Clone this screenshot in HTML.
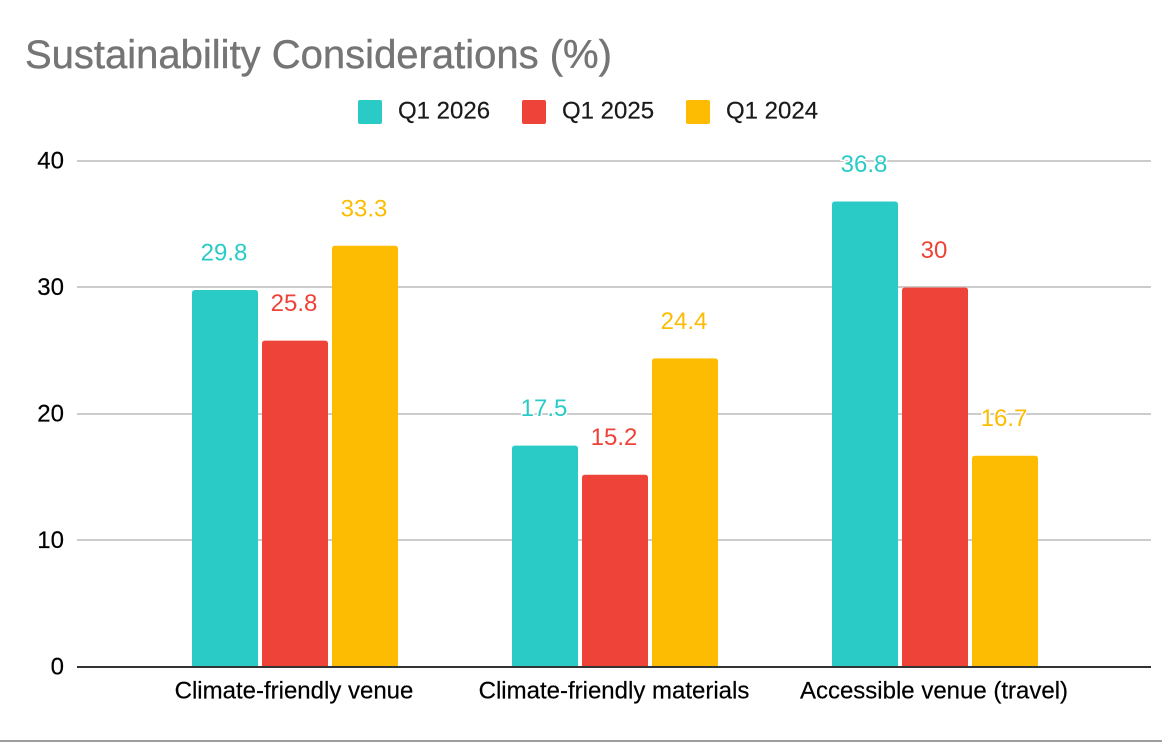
<!DOCTYPE html>
<html lang="en">
<head>
<meta charset="utf-8">
<title>Sustainability Considerations (%)</title>
<style>
html,body{margin:0;padding:0;background:#fff;width:1162px;height:742px;overflow:hidden}
svg{display:block;font-family:"Liberation Sans",Arial,sans-serif}
</style>
</head>
<body>
<svg id="chart" width="1162" height="742" viewBox="0 0 1162 742">
<text x="25" y="68" font-size="40" fill="#757575" stroke="#757575" stroke-width="0.4">Sustainability Considerations (%)</text>
<rect x="0" y="740" width="1162" height="2" fill="#9e9e9e"/>
</svg>
<script>
const categories = ['Climate-friendly venue', 'Climate-friendly materials', 'Accessible venue (travel)'];
const seriesNames = ['Q1 2026', 'Q1 2025', 'Q1 2024'];
const seriesQ12026 = [29.8, 17.5, 36.8];
const seriesQ12025 = [25.8, 15.2, 30];
const seriesQ12024 = [33.3, 24.4, 16.7];
const yTicks = [0, 10, 20, 30, 40];

const seriesValues = [seriesQ12026, seriesQ12025, seriesQ12024];
const colors = ['#2acbc7', '#ee4338', '#fdbc02'];
const svg = document.getElementById('chart');
const NS = 'http://www.w3.org/2000/svg';

function make(tag, attrs, text) {
  const el = document.createElementNS(NS, tag);
  for (const k in attrs) el.setAttribute(k, attrs[k]);
  if (text !== undefined) el.textContent = text;
  svg.appendChild(el);
  return el;
}
function yScale(v) { return 667 - (v / 40) * 506; }
function xBand(i) { return 135 + i * 320; }

// gridlines and y tick labels
yTicks.forEach(function (t) {
  const y = yScale(t);
  if (t !== 0) {
    const grid = make('rect', { x: 77, y: Math.round(y - 1.4), width: 1074, height: 2, fill: '#cccccc' });
    
    
  }
  const lab = make('text', { x: 64, y: y + 7.6, 'font-size': 24, 'text-anchor': 'end', fill: '#000', stroke: '#000', 'stroke-width': 0.2 }, String(t));
  
  
});

// bars
categories.forEach(function (c, ci) {
  seriesValues.forEach(function (vals, si) {
    const x = xBand(ci) + 57 + si * 70;
    const top = yScale(vals[ci]);
    const bar = make('path', {
      d: 'M' + x + ' 667V' + (top + 3) + 'Q' + x + ' ' + top + ' ' + (x + 3) + ' ' + top +
         'H' + (x + 63) + 'Q' + (x + 66) + ' ' + top + ' ' + (x + 66) + ' ' + (top + 3) + 'V667Z',
      fill: colors[si]
    });
    
    
  });
});

// baseline
const axis = make('rect', { x: 77, y: 666, width: 1074, height: 2, fill: '#333333' });



// data labels
categories.forEach(function (c, ci) {
  seriesValues.forEach(function (vals, si) {
    const x = xBand(ci) + 57 + si * 70 + 32;
    const top = yScale(vals[ci]);
    const lab = make('text', {
      x: x, y: top - 29.5, 'font-size': 24, 'text-anchor': 'middle', fill: colors[si],
      stroke: '#fff', 'stroke-width': 3, 'paint-order': 'stroke'
    }, String(vals[ci]));
    
    
  });
});

// category labels
categories.forEach(function (c, ci) {
  const lab = make('text', { x: xBand(ci) + 159, y: 698.6, 'font-size': 24, 'text-anchor': 'middle', fill: '#000', stroke: '#000', 'stroke-width': 0.2 }, c);
  
  
});

// legend
seriesNames.forEach(function (n, i) {
  const x = 358 + i * 164;
  const sw = make('rect', { x: x, y: 100, width: 24, height: 24, rx: 2, fill: colors[i] });
  
  
  const t = make('text', { x: x + 40, y: 118.5, 'font-size': 24, fill: '#1a1a1a', stroke: '#1a1a1a', 'stroke-width': 0.2 }, n);
  
  
});
</script>
</body>
</html>
